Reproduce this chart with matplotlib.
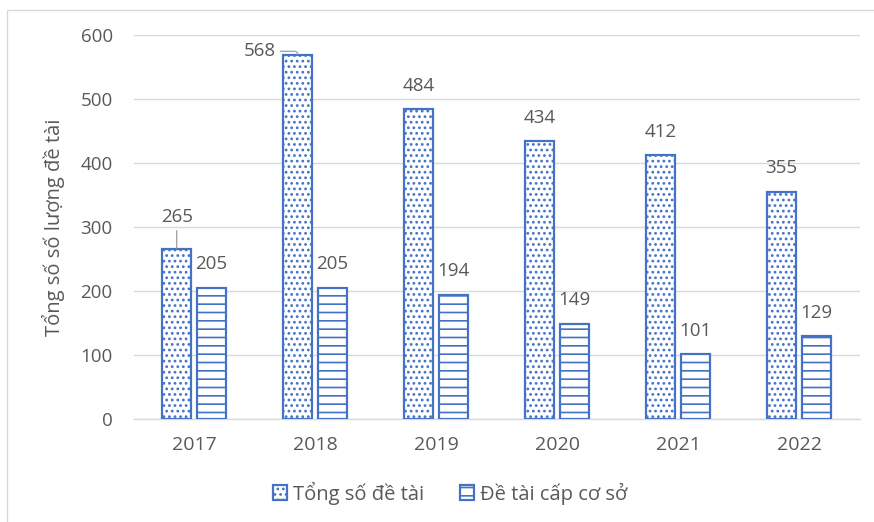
import matplotlib
matplotlib.use("Agg")
import matplotlib.pyplot as plt
import numpy as np
from matplotlib.patches import Rectangle

# Number of research projects per year
years = ["2017", "2018", "2019", "2020", "2021", "2022"]
total_projects = [265, 568, 484, 434, 412, 355]
base_projects = [205, 205, 194, 149, 101, 129]
series_names = ["Tổng số đề tài", "Đề tài cấp cơ sở"]
y_label = "Tổng số số lượng đề tài"
y_ticks = [0, 100, 200, 300, 400, 500, 600]

plt.rcParams["font.family"] = ["Open Sans", "DejaVu Sans"]
plt.rcParams["hatch.linewidth"] = 1.2

BLUE = "#4472C4"
TEXT = "#595959"
GRID = "#D9D9D9"
FS = 13.5

fig = plt.figure(figsize=(8.74, 5.22), dpi=100)
ax = fig.add_axes([133.5 / 874, 1 - 419 / 522, 726 / 874, 384 / 522])

x = np.arange(len(years))
w = 0.235
off = 0.143
b1 = ax.bar(x - off, total_projects, w, facecolor="white", edgecolor=BLUE,
            linewidth=1.6, hatch="...", label=series_names[0], zorder=3)
b2 = ax.bar(x + off, base_projects, w, facecolor="white", edgecolor=BLUE,
            linewidth=1.6, hatch="--", label=series_names[1], zorder=3)

ax.set_xlim(-0.5, len(years) - 0.5)
ax.set_ylim(0, 600)
ax.set_yticks(y_ticks)
ax.set_xticks(x)
ax.set_xticklabels(years)
ax.tick_params(axis="both", length=0, labelcolor=TEXT)
ax.tick_params(axis="y", pad=15, labelsize=FS)
ax.tick_params(axis="x", pad=12, labelsize=14)
ax.grid(axis="y", color=GRID, linewidth=1.0, zorder=0)
ax.set_axisbelow(True)
for s in ["left", "right", "top"]:
    ax.spines[s].set_visible(False)
ax.spines["bottom"].set_color(GRID)
ax.spines["bottom"].set_linewidth(1.0)

ax.set_ylabel(y_label, fontsize=14.5, color=TEXT)
ax.yaxis.set_label_coords(-0.094, 0.5)

leader = dict(arrowstyle="-", color="#A6A6A6", linewidth=1.0, shrinkA=1, shrinkB=1)

# Value labels above each bar
for i, v in enumerate(total_projects):
    xb = x[i] - off
    if i == 0:
        ax.annotate(str(v), (xb, v), xytext=(0, 23), textcoords="offset points",
                    ha="center", va="center", fontsize=FS, color=TEXT,
                    arrowprops=leader)
    elif i == 1:
        ax.annotate(str(v), (xb, v), xytext=(-27, 3), textcoords="offset points",
                    ha="center", va="center", fontsize=FS, color=TEXT,
                    arrowprops=dict(leader, connectionstyle="angle,angleA=0,angleB=90,rad=3"))
    else:
        ax.annotate(str(v), (xb, v), xytext=(0, 17), textcoords="offset points",
                    ha="center", va="center", fontsize=FS, color=TEXT)
for i, v in enumerate(base_projects):
    ax.annotate(str(v), (x[i] + off, v), xytext=(0, 17), textcoords="offset points",
                ha="center", va="center", fontsize=FS, color=TEXT)

fig.legend(handles=[b1, b2], labels=series_names, loc="center",
           bbox_to_anchor=(450 / 874, 1 - 493 / 522), ncol=2, frameon=False,
           fontsize=14.5, labelcolor=TEXT, handlelength=0.7, handleheight=0.7,
           handletextpad=0.3, columnspacing=1.8)

# Chart-area border
fig.patches.append(Rectangle((7 / 874, -0.1), 1.2, 1.1 - 10 / 522,
                             transform=fig.transFigure, fill=False,
                             edgecolor=GRID, linewidth=1.0))

fig.savefig("out.png", dpi=100)
